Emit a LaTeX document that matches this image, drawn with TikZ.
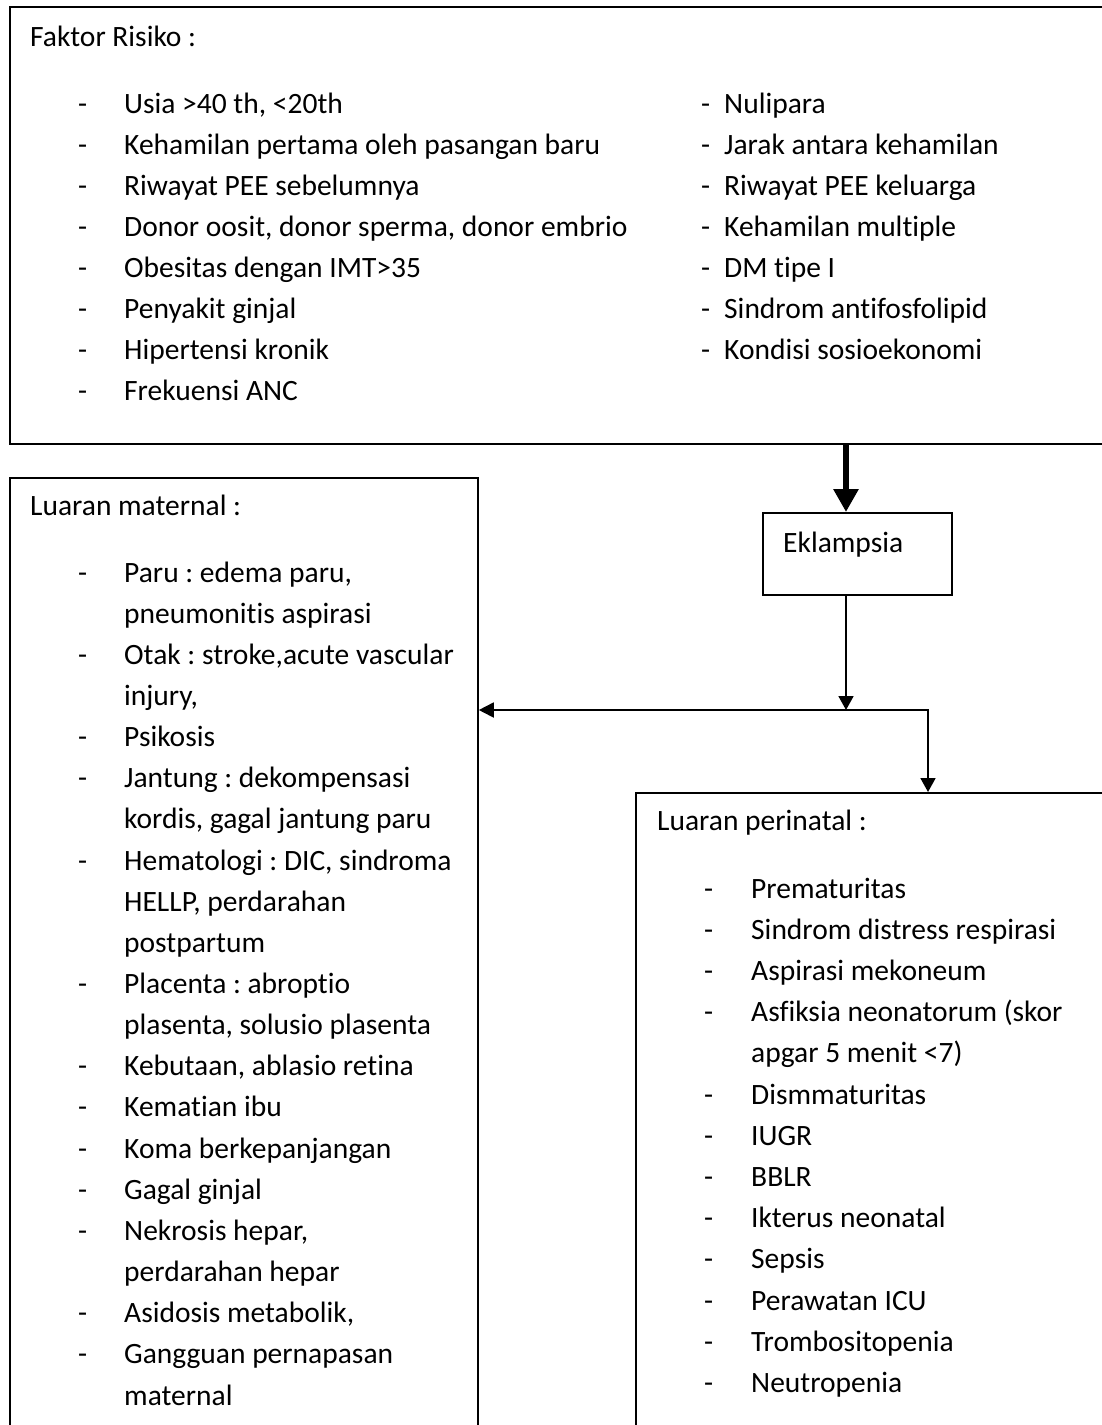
\documentclass[tikz,border=0pt]{standalone}
\usepackage{fontspec}
\setmainfont[Ligatures={NoCommon}]{Carlito}
\usetikzlibrary{positioning,arrows.meta}
\frenchspacing

\begin{document}
\begin{tikzpicture}[x=1pt,y=-1pt,
  box/.style={draw=black,line width=1.8pt,anchor=north west,inner sep=0pt},
  txt/.style={anchor=base west,inner sep=0pt,font=\fontsize{29.5}{36}\selectfont},
  link/.style={line width=1.8pt,-{Triangle[width=15pt,length=14pt]}}]
\useasboundingbox (0,0) rectangle (1102,1425);
% boxes
\node[box,minimum width=1110pt,minimum height=437pt] (risk) at (9,6) {};
\node[box,minimum width=468pt,minimum height=1000pt] (maternal) at (9,477) {};
\node[box,minimum width=480pt,minimum height=700pt] (perinatal) at (635,792) {};
\node[box,minimum width=189pt,minimum height=82pt] (ekl) at (762,512) {};
% faktor risiko
\node[txt] (riskhead) at (30,46) {Faktor Risiko :};
\foreach \t [count=\i from 0] in {{Usia >40 th, <20th},Kehamilan pertama oleh pasangan baru,
  Riwayat PEE sebelumnya,{Donor oosit, donor sperma, donor embrio},Obesitas dengan IMT>35,
  Penyakit ginjal,Hipertensi kronik,Frekuensi ANC}{
  \node[txt] at (78,{113.3+40.96*\i}) {-};
  \node[txt] at (124,{113.3+40.96*\i}) {\t};
}
\foreach \t [count=\i from 0] in {Nulipara,Jarak antara kehamilan,Riwayat PEE keluarga,
  Kehamilan multiple,DM tipe I,Sindrom antifosfolipid,Kondisi sosioekonomi}{
  \node[txt] at (701,{113.3+40.96*\i}) {-};
  \node[txt] at (724,{113.3+40.96*\i}) {\t};
}
\node[txt] (ekltext) at (783,552) {Eklampsia};
% luaran maternal
\node[txt] (mathead) at (30,515) {Luaran maternal :};
\foreach \d/\t [count=\i from 0] in {{1/Paru : edema paru,},0/pneumonitis aspirasi,
  {1/Otak : stroke,acute vascular},{0/injury,},1/Psikosis,1/Jantung : dekompensasi,
  {0/kordis, gagal jantung paru},{1/Hematologi : DIC, sindroma},{0/HELLP, perdarahan},
  0/postpartum,1/Placenta : abroptio,{0/plasenta, solusio plasenta},
  {1/Kebutaan, ablasio retina},1/Kematian ibu,1/Koma berkepanjangan,1/Gagal ginjal,
  {1/Nekrosis hepar,},0/perdarahan hepar,{1/Asidosis metabolik,},
  1/Gangguan pernapasan,0/maternal}{
  \ifnum\d=1 \node[txt] at (78,{582+41.15*\i}) {-};\fi
  \node[txt] at (124,{582+41.15*\i}) {\t};
}
% luaran perinatal
\node[txt] (perhead) at (657,830) {Luaran perinatal :};
\foreach \d/\t [count=\i from 0] in {1/Prematuritas,1/Sindrom distress respirasi,
  1/Aspirasi mekoneum,1/Asfiksia neonatorum (skor,0/apgar 5 menit <7),1/Dismmaturitas,
  1/IUGR,1/BBLR,1/Ikterus neonatal,1/Sepsis,1/Perawatan ICU,1/Trombositopenia,
  1/Neutropenia}{
  \ifnum\d=1 \node[txt] at (704,{898+41.2*\i}) {-};\fi
  \node[txt] at (751,{898+41.2*\i}) {\t};
}
% arrows
\coordinate (split) at (846,710);
\coordinate (turn) at (928,710);
\draw[line width=6.6pt,-{Triangle[width=24pt,length=23pt]}] (risk.south -| split) -- (ekl.north -| split);
\draw[link] (ekl.south -| split) -- (split);
\draw[link,{Triangle[width=15pt,length=15pt]}-{Triangle[width=15pt,length=14pt]}]
  (maternal.east |- split) -| (perinatal.north -| turn);
\end{tikzpicture}
\end{document}
